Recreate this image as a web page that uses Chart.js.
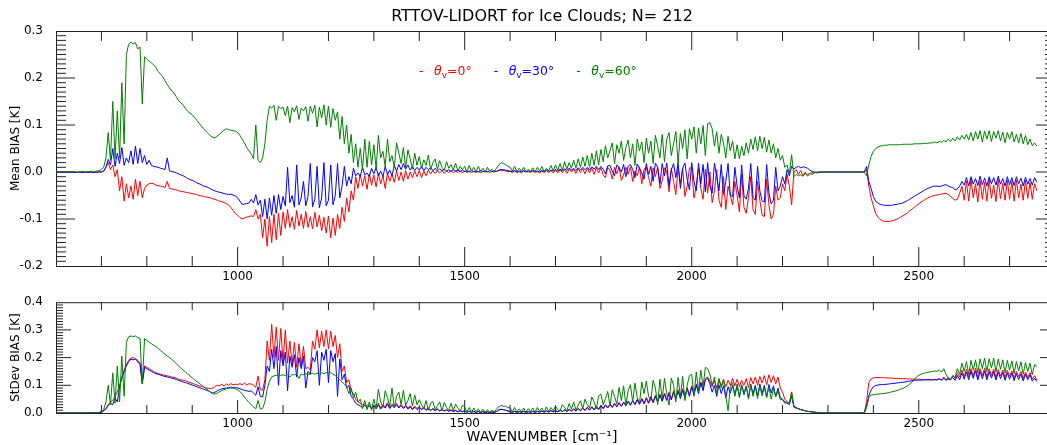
<!DOCTYPE html>
<html>
<head>
<meta charset="utf-8">
<title>RTTOV-LIDORT for Ice Clouds</title>
<script src="https://cdn.jsdelivr.net/npm/chart.js@4/dist/chart.umd.min.js"></script>
<style>
  html, body { margin: 0; padding: 0; background: #fff; width: 1047px; height: 445px; overflow: hidden; }
  #wrap { position: relative; width: 1060px; height: 445px; }
  #meanPanel { position: absolute; left: 0; top: 0; }
  #stdevPanel { position: absolute; left: 0; top: 290px; }
</style>
</head>
<body>
<div id="wrap">
  <canvas id="meanPanel" width="1060" height="290"></canvas>
  <canvas id="stdevPanel" width="1060" height="155"></canvas>
</div>
<script>
// Viewing zenith angles of the three simulations (degrees)
const viewingAngles = [0, 30, 60];

// Spectral grid: first wavenumber and spacing (cm-1)
const WN_START = 600;
const WN_STEP = 5;

// Tick labels
const wavenumberTicks = [1000, 1500, 2000, 2500];
const meanBiasTicks = [-0.2, -0.1, 0.0, 0.1, 0.2, 0.3];
const stdevBiasTicks = [0.0, 0.1, 0.2, 0.3, 0.4];

// Mean bias RTTOV-LIDORT [mK], one row per 100 cm-1 starting at 600
const meanBias0 = [
  0,-1,0,-1,-1,0,-1,0,-1,-1,0,-1,0,-1,-1,0,-1,0,-1,0,
  0,2,10,20,5,15,-10,5,-40,-10,-62,-25,-55,-30,-58,-15,-50,-20,-55,-35,
  -28,-25,-24,-25,-28,-29,-30,-31,-33,-20,-35,-36,-37,-38,-40,-41,-42,-43,-44,-45,
  -46,-47,-48,-50,-51,-52,-53,-54,-55,-57,-58,-60,-62,-63,-65,-67,-70,-75,-82,-88,
  -92,-97,-100,-98,-96,-95,-93,-95,-80,-100,-90,-140,-100,-158,-95,-150,-90,-144,-88,-135,
  -85,-120,-80,-118,-95,-122,-82,-115,-90,-120,-84,-118,-95,-121,-86,-117,-92,-125,-96,-130,
  -94,-140,-98,-135,-90,-120,-75,-105,-55,-85,-40,-60,-10,-35,-5,-30,-8,-37,-4,-28,
  -6,-32,-3,-25,-8,-35,-2,-20,-5,-22,2,-18,0,-20,3,-15,0,-12,2,-10,
  3,-12,2,-8,4,-4,3,-3,2,-2,3,-3,2,-1,3,-2,2,-1,3,-2,
  2,-1,2,-1,1,-1,2,-2,1,0,2,-1,1,0,2,3,4,3,2,1,
  1,-1,2,-1,1,-2,2,0,1,-1,2,-1,1,-2,2,-1,3,-1,3,-2,
  4,-2,5,-1,5,-3,6,0,6,-3,7,-1,7,-4,8,-2,8,-5,9,-2,
  9,-6,-12,10,4,-15,10,-4,11,-18,-6,10,-5,11,-20,2,-8,11,-25,6,
  10,-12,-30,9,-10,10,-35,-18,9,0,-42,8,-20,-48,10,-25,8,-52,-30,9,
  8,-55,-30,9,-35,-58,6,-45,0,-65,-40,5,-60,-75,-10,-80,-30,-50,-70,-20,
  -50,-85,-5,-75,-88,-55,-10,-80,-90,-20,-60,-92,-95,-15,-70,-100,-90,-30,-60,-55,
  -25,-40,-5,-30,-70,0,5,-5,3,-8,0,-9,-3,-5,-2,-1,0,0,0,0,
  0,0,0,0,0,0,0,0,0,0,0,0,0,0,0,0,0,5,-30,-55,
  -72,-88,-96,-101,-104,-105,-105,-105,-104,-103,-101,-99,-96,-93,-90,-87,-83,-79,-75,-71,
  -68,-64,-61,-58,-55,-53,-51,-50,-49,-48,-47,-46,-45,-48,-52,-56,-60,-58,-45,-30,
  -60,-20,-62,-15,-55,-25,-64,-18,-58,-22,-62,-15,-56,-28,-63,-16,-57,-24,-60,-18,
  -58,-20,-62,-17,-55,-26,-60,-18,-56,-22,-58,-25,-40
];
const meanBias30 = [
  0,0,-1,0,-1,0,0,-1,0,-1,0,0,-1,0,-1,0,-1,-1,0,0,
  0,2,10,27,15,50,12,40,18,52,14,30,20,45,16,55,18,50,20,35,
  16,25,14,12,11,10,8,7,5,30,2,1,0,-2,-4,-6,-8,-11,-14,-16,
  -18,-20,-23,-25,-27,-30,-31,-33,-36,-38,-40,-42,-43,-44,-46,-47,-48,-47,-49,-51,
  -55,-62,-69,-68,-67,-66,-58,-66,-48,-70,-60,-95,-58,-100,-55,-92,-50,-88,-48,-80,
  -52,-72,10,-65,-50,-75,15,-70,-55,-20,-72,-52,18,-74,-58,12,-76,-55,20,-72,
  -60,15,-70,-50,18,-55,-30,12,-30,-10,-25,8,-8,-2,-10,10,-6,-2,-10,8,
  -4,10,-8,2,-10,12,-5,4,-8,14,2,16,5,18,6,15,4,12,3,10,
  4,12,3,10,5,9,3,8,2,7,3,6,2,5,1,5,2,4,1,4,
  1,3,0,3,1,2,0,3,1,2,0,3,1,2,1,4,5,5,4,3,
  2,1,3,0,2,1,3,0,2,1,3,1,2,0,3,1,4,1,4,2,
  5,2,6,2,7,3,8,4,8,3,9,4,10,5,10,4,11,6,12,5,
  12,6,-4,13,14,2,-8,15,10,0,16,-10,12,16,5,-12,17,8,-2,-15,
  18,-5,12,-20,19,10,-25,18,-8,19,-30,4,18,-12,20,-35,8,19,-15,-38,
  20,-20,-40,19,-25,16,-42,20,-30,-45,19,-10,-40,16,-48,-20,18,-50,-52,10,
  -30,-55,15,-50,-58,-35,18,-55,-60,12,-40,-62,-64,16,-45,-68,-60,10,-40,-30,
  -10,-25,5,-8,12,6,10,12,9,11,10,8,4,1,0,-2,-1,0,0,0,
  0,0,0,0,0,0,0,0,0,0,0,0,0,0,0,0,0,12,-20,-35,
  -52,-62,-66,-69,-70,-71,-71,-71,-71,-70,-69,-68,-67,-66,-63,-61,-58,-55,-52,-49,
  -46,-43,-40,-37,-35,-33,-31,-30,-30,-31,-30,-28,-27,-30,-32,-33,-38,-36,-30,-20,
  -28,-12,-30,-10,-26,-14,-29,-9,-27,-13,-30,-10,-25,-12,-28,-9,-26,-14,-30,-10,
  -27,-12,-29,-10,-25,-13,-30,-11,-26,-14,-28,-12,-22
];
const meanBias60 = [
  0,0,0,1,0,1,0,0,1,0,0,1,1,0,1,1,2,1,2,3,
  5,10,30,84,25,150,28,130,30,190,60,250,272,276,273,275,262,266,145,245,
  240,236,232,228,222,214,208,203,194,186,179,172,168,160,152,147,143,135,129,125,
  122,116,110,104,98,92,87,82,77,74,73,76,80,85,89,92,90,89,88,87,
  84,78,70,62,52,45,38,28,100,25,20,30,60,110,140,136,142,110,140,135,
  138,120,140,105,137,128,141,112,136,130,139,108,140,125,142,96,138,115,143,100,
  140,95,135,110,128,70,118,60,100,40,80,20,60,10,50,5,70,10,65,15,
  58,6,78,30,44,12,70,22,35,9,62,40,18,52,8,47,28,6,40,14,
  33,8,26,14,36,5,20,28,6,24,10,3,22,8,16,4,19,2,12,5,
  12,0,14,2,10,0,12,1,8,0,10,2,6,0,8,15,20,18,16,12,
  10,2,12,0,8,2,10,0,6,1,9,0,10,2,12,1,8,3,14,2,
  15,4,18,3,22,6,20,8,25,8,28,10,32,12,35,10,40,14,45,15,
  48,22,56,30,45,62,18,58,40,66,25,52,68,30,60,14,70,45,64,20,
  72,40,66,18,78,55,30,80,22,70,84,35,60,86,18,82,50,90,28,92,
  70,96,40,94,60,99,35,103,105,92,55,86,40,80,62,30,76,45,66,28,
  58,28,55,35,62,40,70,48,75,45,76,50,74,42,68,40,60,30,50,25,
  35,10,15,-5,37,-10,-5,-8,-6,-9,-4,-6,-3,-2,-1,0,0,0,0,0,
  0,0,0,0,0,0,0,0,0,0,0,0,0,0,0,0,0,-8,15,33,
  44,50,53,55,56,57,57,58,58,58,58,58,58,59,59,59,59,59,60,60,
  60,60,61,61,61,62,62,64,62,65,63,67,64,70,65,72,66,75,68,78,
  70,80,68,84,66,86,70,88,64,87,70,88,65,86,72,88,66,85,62,84,
  70,86,64,80,62,82,60,78,58,70,56,62,55
];

// Standard deviation of the bias [mK], same grid
const stdevBias0 = [
  0,0,0,0,0,0,0,0,0,0,0,0,1,0,1,0,1,1,1,2,
  3,8,15,30,40,45,60,75,100,130,155,175,190,198,200,196,190,180,110,170,
  165,160,155,150,145,142,140,138,136,134,132,130,128,126,122,120,118,116,113,110,
  107,104,101,98,96,94,91,89,88,90,95,100,98,104,97,105,100,106,101,104,
  103,106,102,108,101,106,104,100,93,133,85,82,120,260,190,320,200,310,190,305,
  185,300,180,260,175,255,165,250,170,240,160,165,155,260,230,300,235,295,240,300,
  232,295,240,280,200,250,150,170,110,120,80,70,50,40,35,30,32,25,30,22,
  28,20,35,18,30,22,38,20,32,25,35,22,30,20,28,18,26,15,25,16,
  22,14,20,12,18,10,16,10,15,8,14,8,12,6,12,6,10,5,10,5,
  8,3,7,3,6,2,6,2,5,2,5,2,4,2,6,12,14,12,10,8,
  6,3,6,2,5,3,6,2,5,3,6,2,6,3,7,3,8,4,9,4,
  10,5,11,6,12,6,14,8,15,8,17,10,19,10,21,12,23,12,25,14,
  28,18,30,20,33,22,35,24,38,25,40,28,43,30,46,32,50,33,53,35,
  56,38,60,40,64,42,68,45,72,48,76,50,80,55,84,58,88,60,92,64,
  98,70,105,80,112,88,125,130,115,95,118,90,120,98,122,95,118,100,125,98,
  122,95,118,100,124,92,128,105,130,100,132,108,135,102,138,110,135,105,130,90,
  75,50,40,35,76,25,20,16,13,10,8,6,5,4,3,2,1,0,0,0,
  0,0,0,0,0,0,0,0,0,0,0,0,0,0,0,0,0,40,110,123,
  127,128,128,128,128,127,127,126,126,125,125,125,124,124,124,123,123,123,122,122,
  122,121,121,120,120,120,119,120,119,125,118,130,120,128,122,135,125,145,130,155,
  132,158,130,160,135,162,128,160,134,163,130,160,136,158,128,157,134,155,128,154,
  133,152,126,150,132,150,124,148,128,146,122,135,118
];
const stdevBias30 = [
  0,0,0,0,0,0,0,0,0,0,0,0,0,0,1,0,1,0,1,2,
  3,8,15,28,35,30,55,40,95,125,150,170,185,195,192,195,185,175,105,165,
  160,155,150,146,142,140,137,134,132,130,128,126,124,121,118,115,112,110,107,104,
  101,98,95,92,89,86,83,80,76,72,75,80,84,87,89,90,92,93,92,91,
  90,88,84,82,80,78,80,72,64,95,60,58,100,170,150,230,160,240,100,225,
  170,220,80,205,165,210,130,200,160,205,90,150,140,200,185,225,100,220,190,230,
  110,225,185,215,60,195,120,140,90,100,60,50,35,30,25,20,28,18,25,15,
  25,15,30,14,26,18,32,16,28,20,30,18,27,16,25,14,22,12,21,12,
  20,12,18,10,16,9,15,8,14,7,13,7,11,6,10,5,9,4,8,4,
  7,3,6,2,6,2,5,2,5,1,4,2,4,2,5,11,13,12,10,7,
  5,2,6,2,5,2,6,2,5,2,6,2,6,3,7,3,7,3,8,4,
  9,4,10,5,11,5,12,6,14,7,15,8,17,9,19,10,21,11,23,12,
  26,15,28,18,30,20,33,22,36,24,38,26,41,28,44,30,47,31,50,33,
  53,35,57,37,60,40,64,42,67,45,70,47,74,50,78,52,82,56,88,60,
  95,65,100,70,108,80,120,125,105,75,100,60,102,70,98,55,95,72,100,65,
  98,60,102,70,96,55,104,68,100,62,105,70,100,58,103,72,98,60,90,55,
  50,40,35,32,60,22,18,15,12,10,8,6,5,4,3,2,1,0,0,0,
  0,0,0,0,0,0,0,0,0,0,0,0,0,0,0,0,0,25,62,82,
  95,99,101,102,103,103,104,105,106,107,108,109,110,111,112,114,115,117,118,118,
  119,119,119,120,120,120,120,121,120,122,120,125,118,122,120,128,118,135,120,145,
  122,148,120,150,125,152,119,150,124,152,120,149,126,150,119,148,124,146,118,145,
  122,144,117,142,121,140,116,140,120,138,115,125,114
];
const stdevBias60 = [
  0,0,0,0,0,0,0,0,0,0,0,0,0,0,0,0,0,0,1,2,
  5,12,40,100,30,145,35,170,40,205,60,255,275,278,276,278,272,270,105,268,
  262,256,250,245,240,233,226,219,212,206,200,193,186,178,170,162,155,148,141,134,
  127,120,114,108,101,95,88,82,75,70,68,72,77,81,84,87,89,90,90,88,
  84,78,68,58,48,38,30,22,15,45,14,16,40,85,115,130,134,136,137,136,
  138,135,139,130,140,137,141,125,140,138,142,139,141,143,140,144,141,145,142,146,
  144,146,140,135,128,120,112,105,95,70,90,55,75,40,50,15,45,12,40,10,
  50,15,85,40,20,80,55,25,90,18,60,75,30,82,28,45,70,25,65,30,
  48,30,15,45,10,35,42,12,26,40,8,38,20,10,35,8,32,18,6,28,
  22,3,20,2,18,4,15,2,14,3,12,2,10,3,15,22,27,25,24,20,
  18,5,20,3,15,4,18,2,16,5,18,3,20,6,18,4,22,5,20,8,
  25,12,6,30,20,8,34,14,40,10,28,44,15,50,30,18,58,40,15,62,
  68,30,52,78,25,84,60,32,92,45,98,28,80,102,40,108,55,35,112,70,
  115,60,45,118,90,30,122,50,125,70,28,126,100,40,128,60,132,45,100,135,
  140,60,148,80,155,95,165,160,140,100,130,70,125,90,120,60,8,95,110,60,
  105,55,100,65,98,50,102,60,95,52,98,62,92,55,95,50,88,58,80,48,
  48,35,40,30,76,20,18,15,12,10,8,6,5,4,3,2,1,0,0,0,
  0,0,0,0,0,0,0,0,0,0,0,0,0,0,0,0,0,20,55,65,
  66,67,68,69,70,71,72,74,76,78,80,83,86,89,93,98,104,112,121,130,
  136,140,143,145,147,148,150,152,150,155,148,160,140,125,120,135,128,160,140,180,
  150,185,140,190,155,192,145,195,160,198,150,196,162,198,148,195,158,192,145,190,
  155,188,142,186,152,185,140,182,150,180,138,175,168
];

const FONT = 'DejaVu Sans';
const COLORS = ['#ff0000', '#0000ff', '#008000'];
const TITLE = 'RTTOV-LIDORT for Ice Clouds; N= 212';

// all series share one wavenumber grid
const allSeries = [meanBias0, meanBias30, meanBias60, stdevBias0, stdevBias30, stdevBias60];
allSeries.forEach((s, i) => {
  if (s.length !== meanBias0.length) throw new Error('series ' + i + ' has ' + s.length + ' samples');
});
const wavenumber = meanBias0.map((_, i) => WN_START + WN_STEP * i);
const toPoints = mK => mK.map((v, i) => ({ x: wavenumber[i], y: v / 1000 }));

Chart.defaults.font.family = FONT;

// Frame around the plot with inward-pointing major/minor ticks on all four sides
const frameTicks = {
  id: 'frameTicks',
  beforeDatasetsDraw(chart, args, o) {
    const { ctx, chartArea: a, scales: { x, y } } = chart;
    ctx.save();
    ctx.strokeStyle = '#222';
    ctx.lineWidth = 1;
    ctx.strokeRect(a.left + 0.5, a.top + 0.5, a.right - a.left, a.bottom - a.top);
    ctx.beginPath();
    for (let w = 700; w < 2800; w += 100) {
      const px = x.getPixelForValue(w);
      const len = w % 500 === 0 ? o.xMajor : o.xMinor;
      ctx.moveTo(px, a.bottom); ctx.lineTo(px, a.bottom - len);
      ctx.moveTo(px, a.top); ctx.lineTo(px, a.top + len);
    }
    for (let k = o.kMin + 1; k < o.kMax; k++) {
      const py = y.getPixelForValue(k / 100);
      const len = k % 10 === 0 ? o.yMajor : o.yMinor;
      ctx.moveTo(a.left, py); ctx.lineTo(a.left + len, py);
      ctx.moveTo(a.right, py); ctx.lineTo(a.right - len, py);
    }
    ctx.stroke();
    ctx.restore();
  }
};

function captionPlugin(draw) {
  return { id: 'captions', afterDraw(chart) { const c = chart.ctx; c.save(); draw(c); c.restore(); } };
}

function drawTitleAndLegend(ctx) {
  ctx.fillStyle = '#000';
  ctx.textAlign = 'center';
  ctx.textBaseline = 'middle';
  ctx.font = `16px "${FONT}"`;
  ctx.fillText(TITLE, 542, 17);

  // legend: "-  θv=NN°" in each series colour
  ctx.textAlign = 'left';
  let x = 419;
  const y = 72;
  viewingAngles.forEach((angle, i) => {
    ctx.fillStyle = COLORS[i];
    ctx.font = `12.5px "${FONT}"`;
    ctx.fillText('-', x, y);
    let tx = x + 15;
    ctx.font = `italic 12.5px "${FONT}"`;
    ctx.fillText('θ', tx, y);
    tx += ctx.measureText('θ').width;
    ctx.font = `9px "${FONT}"`;
    ctx.fillText('v', tx, y + 4);
    tx += ctx.measureText('v').width;
    ctx.font = `12.5px "${FONT}"`;
    const rest = `=${angle}°`;
    ctx.fillText(rest, tx, y);
    tx += ctx.measureText(rest).width;
    x = tx + 22;
  });
}

function drawXTitle(ctx) {
  ctx.fillStyle = '#000';
  ctx.textAlign = 'center';
  ctx.textBaseline = 'middle';
  ctx.font = `14px "${FONT}"`;
  ctx.fillText('WAVENUMBER [cm⁻¹]', 542, 147);
}

function makePanel(canvasId, series, cfg) {
  return new Chart(document.getElementById(canvasId), {
    type: 'line',
    data: {
      datasets: series.map((vals, i) => ({
        label: `θv=${viewingAngles[i]}°`,
        data: toPoints(vals),
        borderColor: COLORS[i],
        backgroundColor: COLORS[i],
        borderWidth: 1,
        borderJoinStyle: 'round',
        pointRadius: 0,
        tension: 0,
        fill: false,
        order: series.length - 1 - i
      }))
    },
    options: {
      responsive: false,
      animation: false,
      devicePixelRatio: 1,
      events: [],
      parsing: false,
      normalized: true,
      layout: { padding: { left: 0, right: 5, top: cfg.padTop, bottom: 0 } },
      plugins: {
        legend: { display: false },
        tooltip: { enabled: false },
        title: { display: false },
        frameTicks: cfg.frame
      },
      scales: {
        x: {
          type: 'linear',
          min: 600,
          max: 2800,
          afterFit(scale) { scale.height = cfg.xHeight; },
          afterBuildTicks(scale) { scale.ticks = wavenumberTicks.map(v => ({ value: v })); },
          grid: { display: false },
          border: { display: false },
          ticks: {
            color: '#000',
            font: { family: FONT, size: 12 },
            padding: cfg.xLabelPad,
            maxRotation: 0,
            autoSkip: false,
            callback: v => String(v)
          }
        },
        y: {
          type: 'linear',
          min: cfg.yMin,
          max: cfg.yMax,
          afterFit(scale) { scale.width = 56; },
          afterBuildTicks(scale) { scale.ticks = cfg.yTicks.map(v => ({ value: v })); },
          grid: { display: false },
          border: { display: false },
          ticks: {
            color: '#000',
            font: { family: FONT, size: 12 },
            padding: 5,
            callback: v => Number(v).toFixed(1)
          },
          title: {
            display: true,
            text: cfg.yTitle,
            color: '#000',
            font: { family: FONT, size: 12 },
            padding: { top: 9, bottom: 0 }
          }
        }
      }
    },
    plugins: [frameTicks, captionPlugin(cfg.captions)]
  });
}

makePanel('meanPanel', [meanBias0, meanBias30, meanBias60], {
  padTop: 31,
  xHeight: 24,
  xLabelPad: -4,
  yMin: -0.2,
  yMax: 0.3,
  yTicks: meanBiasTicks,
  yTitle: 'Mean BIAS [K]',
  frame: { xMajor: 19, xMinor: 10, yMajor: 19, yMinor: 10, kMin: -20, kMax: 30 },
  captions: drawTitleAndLegend
});

makePanel('stdevPanel', [stdevBias0, stdevBias30, stdevBias60], {
  padTop: 5,
  xHeight: 32,
  xLabelPad: -4,
  yMin: 0,
  yMax: 0.4,
  yTicks: stdevBiasTicks,
  yTitle: 'StDev BIAS [K]',
  frame: { xMajor: 13, xMinor: 8, yMajor: 15, yMinor: 7, kMin: 0, kMax: 40 },
  captions: drawXTitle
});
</script>
</body>
</html>
